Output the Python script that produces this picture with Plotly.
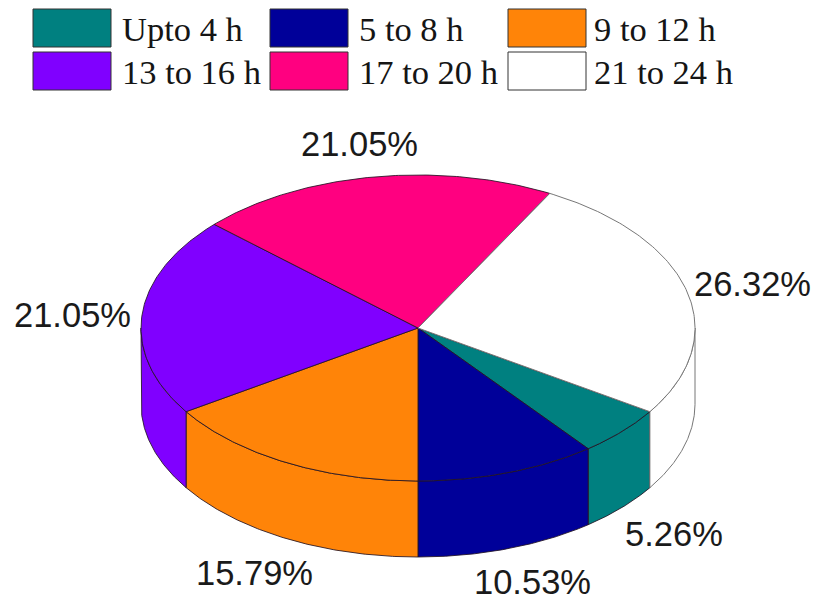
"""3D style pie of hours per group, drawn on a pixel-sized axis."""

import numpy as np
import plotly.graph_objects as go

categories = ["Upto 4 h", "5 to 8 h", "9 to 12 h", "13 to 16 h", "17 to 20 h", "21 to 24 h"]
values = [5.26, 10.53, 15.79, 21.05, 21.05, 26.32]
colors = ["#008080", "#000099", "#ff8408", "#8000ff", "#ff0080", "#ffffff"]
value_labels = ["5.26%", "10.53%", "15.79%", "21.05%", "21.05%", "26.32%"]

# pie geometry in page pixels
CX, CY, RX, RY, DEPTH = 418, 328, 277, 153, 76
START_DEG = -33.16
EDGE = "rgba(35,20,35,0.85)"

label_x = [674, 532, 254, 72, 359, 752]
label_y = [534, 582, 573, 315, 144, 284]
swatch_x = [33, 270, 508]
swatch_y = [9, 52]
legend_text_x = [120, 357, 592]
legend_text_y = [29, 72]

shares = np.array(values) / sum(values) * 360
ends = START_DEG - np.cumsum(shares)
starts = ends + shares


def arc(a, b, drop=0):
    t = np.radians(np.linspace(a, b, 120))
    return CX + RX * np.cos(t), CY - RY * np.sin(t) + drop


fig = go.Figure()

# side walls, only the part of the rim facing the viewer (angles -180..0)
for start, end, color in zip(starts, ends, colors):
    for a, b in [(start, end), (start + 360, end + 360), (start - 360, end - 360)]:
        hi, lo = min(a, 0), max(b, -180)
        if hi <= lo:
            continue
        x0, y0 = arc(hi, lo)
        x1, y1 = arc(lo, hi, DEPTH)
        fig.add_trace(go.Scatter(
            x=np.r_[x0, x1, x0[0]], y=np.r_[y0, y1, y0[0]], mode="lines", fill="toself",
            fillcolor=color, line={"color": EDGE if color != "#ffffff" else "#777777", "width": 1},
            hoverinfo="skip",
        ))

# top face
for name, start, end, color in zip(categories, starts, ends, colors):
    x0, y0 = arc(start, end)
    fig.add_trace(go.Scatter(
        x=np.r_[CX, x0, CX], y=np.r_[CY, y0, CY], mode="lines", fill="toself", name=name,
        fillcolor=color, line={"color": EDGE if color != "#ffffff" else "#777777", "width": 1},
    ))

for i, name in enumerate(categories):
    col, row = i % 3, i // 3
    fig.add_shape(
        type="rect", x0=swatch_x[col], x1=swatch_x[col] + 78, y0=swatch_y[row], y1=swatch_y[row] + 38,
        fillcolor=colors[i], line={"color": "#333333", "width": 1},
    )
    fig.add_annotation(
        x=legend_text_x[col], y=legend_text_y[row], text=name, showarrow=False, xanchor="left", yanchor="middle",
        font={"family": "Liberation Serif", "size": 34.5, "color": "#151515"},
    )

for text, x, y in zip(value_labels, label_x, label_y):
    fig.add_annotation(
        x=x, y=y, text=text, showarrow=False, xanchor="center", yanchor="middle",
        font={"family": "Liberation Sans", "size": 34.5, "color": "#1a1a1a"},
    )

fig.update_xaxes(range=[0, 815], visible=False, fixedrange=True)
fig.update_yaxes(range=[601, 0], visible=False, fixedrange=True)
fig.update_layout(
    width=815, height=601, margin={"l": 0, "r": 0, "t": 0, "b": 0}, showlegend=False,
    paper_bgcolor="white", plot_bgcolor="white",
)
# the browser's default body margin would push the figure 8px in and clip it
fig.write_html(
    "out.html", config={"displayModeBar": False},
    post_script="document.body.style.margin='0';document.body.style.overflow='hidden';",
)
